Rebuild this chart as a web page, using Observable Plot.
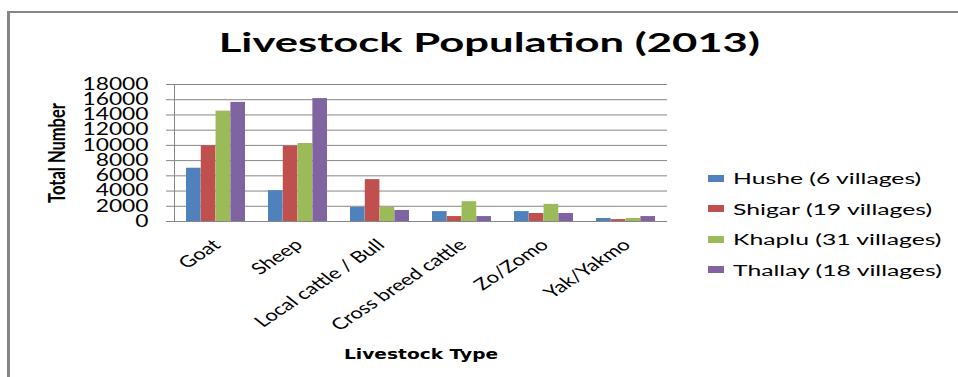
<!DOCTYPE html>
<html><head><meta charset="utf-8">
<script src="https://cdn.jsdelivr.net/npm/d3@7"></script>
<script src="https://cdn.jsdelivr.net/npm/@observablehq/plot@0.6"></script>
<style>
body{margin:0;background:#fff;}
#wrap{position:relative;width:958px;height:377px;overflow:hidden;background:#fff;font-family:Lato,sans-serif;}
#wrap svg{position:absolute;left:0;top:0;}
#border{position:absolute;left:7px;top:11px;width:960px;height:380px;border-left:3px solid #868686;border-top:2px solid #868686;box-sizing:border-box;}
#title{position:absolute;left:0;width:978px;top:26px;text-align:center;line-height:32px;white-space:nowrap;}
#title span{display:inline-block;font:bold 26px Lato,sans-serif;color:#000;transform-origin:50% 50%;}
#legend{position:absolute;left:708px;top:163px;}
#legend .row{height:30.5px;display:flex;align-items:center;white-space:nowrap;}
#legend .sw{display:inline-block;width:16px;height:7px;margin-right:9px;flex-shrink:0;}
#legend .lab{display:inline-block;font:15.5px Lato,sans-serif;color:#000;transform-origin:0 50%;}
</style></head>
<body>
<div id="wrap"><div id="border"></div><div id="title"><span>Livestock Population (2013)</span></div><div id="legend"></div></div>
<script>
const categories = ["Goat", "Sheep", "Local cattle / Bull", "Cross breed cattle", "Zo/Zomo", "Yak/Yakmo"];
const series = ["Hushe (6 villages)", "Shigar (19 villages)", "Khaplu (31 villages)", "Thallay (18 villages)"];
const hushe   = [7000, 4050, 1850, 1300, 1300, 400];
const shigar  = [9950, 9900, 5500, 650, 1050, 250];
const khaplu  = [14500, 10250, 1850, 2600, 2250, 400];
const thallay = [15650, 16150, 1450, 650, 1050, 650];
const yTicks = [0, 2000, 4000, 6000, 8000, 10000, 12000, 14000, 16000, 18000];
const colors = ["#4F81BD", "#C0504D", "#9BBB59", "#8064A2"];

const values = [hushe, shigar, khaplu, thallay];
const rows = categories.flatMap((c, j) => series.map((s, i) => ({category: c, series: s, value: values[i][j]})));

const S = 1.38; // horizontal stretch of the original picture
const W = 958, H = 377, mL = 174, mR = 291, mT = 84, mB = 156;
const pIn = 0.28, pOut = 0.14;
const band = d3.scaleBand(categories, [mL, W - mR]).paddingInner(pIn).paddingOuter(pOut);
const sub = band.bandwidth() / series.length;

const plot = Plot.plot({
  width: W, height: H,
  marginLeft: mL, marginRight: mR, marginTop: mT, marginBottom: mB,
  style: {background: "transparent", fontFamily: "Lato, sans-serif", fontSize: "16.5px", color: "#000"},
  x: {domain: categories, paddingInner: pIn, paddingOuter: pOut},
  y: {domain: [0, 18000]},
  color: {domain: series, range: colors},
  marks: [
    Plot.gridY(yTicks, {stroke: "#868686", strokeOpacity: 1}),
    ...series.map((s, i) => Plot.barY(rows.filter(d => d.series === s), {
      x: "category", y: "value", fill: "series",
      insetLeft: i * sub, insetRight: (series.length - 1 - i) * sub
    })),
    Plot.axisY(yTicks, {tickSize: 8, tickPadding: 18, stroke: "#868686", strokeOpacity: 1,
      tickFormat: d => String(d),
      label: "Total Number", labelArrow: "none", labelAnchor: "center", labelOffset: 126}),
    Plot.axisX({tickSize: 0, tickPadding: 21, tickRotate: -42.5, dx: 1,
      label: "Livestock Type", labelArrow: "none", labelAnchor: "center", labelOffset: 137}),
    Plot.frame({anchor: "left", stroke: "#868686", strokeOpacity: 1})
  ]
});

function styleGroup(sel, css) {
  plot.querySelectorAll(sel).forEach(g => Object.assign(g.style, css));
}
styleGroup('g[aria-label="y-axis tick label"]', {fontFamily: "Lato, sans-serif", fontSize: "16.5px", fill: "#000"});
styleGroup('g[aria-label="x-axis tick label"]', {fontFamily: "Lato, sans-serif", fontSize: "16px", fill: "#000"});
styleGroup('g[aria-label="y-axis label"]', {fontFamily: "Lato, sans-serif", fontSize: "16.5px", fontWeight: "bold", fill: "#000"});
styleGroup('g[aria-label="x-axis label"]', {fontFamily: "'DejaVu Sans', sans-serif", fontSize: "13.5px", fontWeight: "bold", fill: "#000"});
plot.querySelectorAll('g[aria-label="y-axis label"] text, g[aria-label="x-axis label"] text').forEach(t => {
  t.textContent = t.textContent.replace(/\s*[↑↓→←]\s*/g, "");
});

// reproduce the horizontal stretch of the reference's glyphs
plot.querySelectorAll("text").forEach(t => {
  const tr = t.getAttribute("transform") || "";
  const m = tr.match(/^translate\([^)]*\)/);
  if (m) {
    t.setAttribute("transform", m[0] + ` scale(${S},1)` + tr.slice(m[0].length));
  } else {
    const x = +(t.getAttribute("x") || 0), y = +(t.getAttribute("y") || 0);
    t.removeAttribute("x"); t.removeAttribute("y");
    t.setAttribute("transform", `translate(${x},${y}) scale(${S},1) ` + tr);
  }
});

const wrap = document.getElementById("wrap");
wrap.insertBefore(plot, wrap.firstChild);

// title, stretched to the reference's width
const titleSpan = document.querySelector("#title span");
titleSpan.style.transform = `scaleX(${542 / titleSpan.offsetWidth})`;

// legend from the plot's own colour scale
const color = plot.scale("color");
const legBox = document.getElementById("legend");
const labs = [];
color.domain.forEach(s => {
  const row = document.createElement("div"); row.className = "row";
  const sw = document.createElement("span"); sw.className = "sw"; sw.style.background = color.apply(s);
  const lab = document.createElement("span"); lab.className = "lab"; lab.textContent = s;
  row.append(sw, lab); legBox.appendChild(row); labs.push(lab);
});
const longest = Math.max(...labs.map(l => l.offsetWidth));
const k = 209 / longest;
labs.forEach(l => l.style.transform = `scaleX(${k})`);
</script>
</body></html>
